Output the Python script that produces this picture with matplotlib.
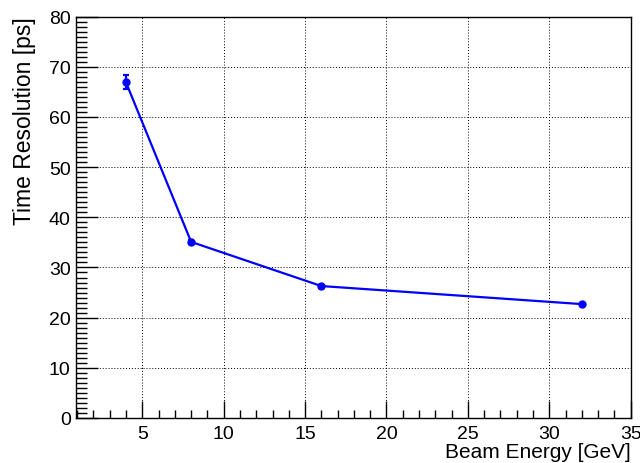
import matplotlib.pyplot as plt
from matplotlib.ticker import MultipleLocator

plt.rcParams['font.family'] = ['Liberation Sans', 'DejaVu Sans']

energia = [4, 8, 16, 32]
resolucion = [66.9, 35.1, 26.3, 22.7]
errores = [1.4, 0.4, 0.3, 0.3]

fig = plt.figure(figsize=(6.4, 4.64), dpi=100)
ax = fig.add_axes([0.118, 0.097, 0.8675, 0.865])

ax.errorbar(energia, resolucion, yerr=errores, color='#0000ff', lw=1.6,
            marker='o', ms=5, capsize=2.5, elinewidth=1.6, capthick=1.6)

ax.set_xlim(0.9, 35)
ax.set_ylim(0, 80)
ax.xaxis.set_major_locator(MultipleLocator(5))
ax.xaxis.set_minor_locator(MultipleLocator(1))
ax.yaxis.set_major_locator(MultipleLocator(10))
ax.yaxis.set_minor_locator(MultipleLocator(1))
ax.tick_params(which='both', direction='in', top=False, right=False,
               labelsize=14, width=1, color='black')
ax.tick_params(axis='x', which='major', length=12, pad=5)
ax.tick_params(axis='x', which='minor', length=6)
ax.tick_params(axis='y', which='major', length=16, pad=3.5)
ax.tick_params(axis='y', which='minor', length=8)
ax.grid(True, which='major', color='black', ls=(0, (1, 2)), lw=0.7)
for s in ax.spines.values():
    s.set_linewidth(1)

ax.set_xlabel('Beam Energy [GeV]', fontsize=15, loc='right', labelpad=0)
ax.set_ylabel('Time Resolution [ps]', fontsize=16.5, loc='top', labelpad=9)

fig.savefig('out.png', dpi=100)
